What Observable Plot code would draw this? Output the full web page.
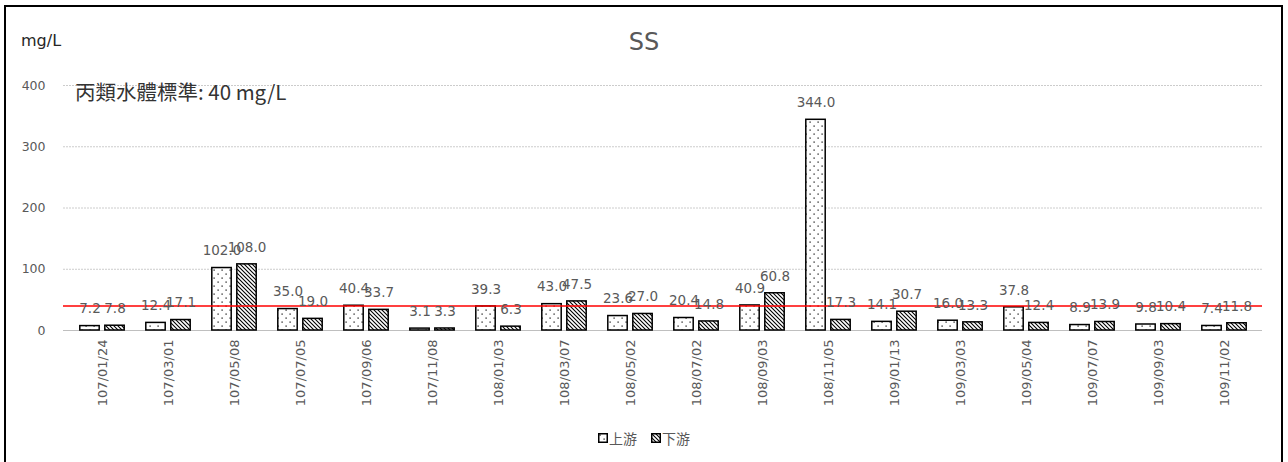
<!DOCTYPE html>
<html>
<head>
<meta charset="utf-8">
<script src="https://cdn.jsdelivr.net/npm/d3@7"></script>
<script src="https://cdn.jsdelivr.net/npm/@observablehq/plot@0.6"></script>
<style>
  html, body { margin: 0; padding: 0; background: #fff; overflow: hidden; }
  #wrap { position: relative; width: 1288px; height: 462px; overflow: hidden; }
  #chart { position: absolute; left: 0; top: 0; }
  #border { position: absolute; left: 4px; top: 5px; width: 1279px; height: 480px; border: 2px solid #000; box-sizing: border-box; }
  .lbl { position: absolute; white-space: nowrap; }
  #title { left: 0; width: 1288px; top: 28px; text-align: center; font: 24px "DejaVu Sans", sans-serif; color: #595959; }
  #unit { left: 21px; top: 31px; font: 16px "DejaVu Sans", sans-serif; color: #262626; }
  #std { left: 75px; top: 76px; font: 20.5px "Noto Sans CJK TC", sans-serif; color: #333; }
  #legend { left: 0; width: 1288px; top: 427px; text-align: center; font: 14px "Noto Sans CJK TC", sans-serif; color: #595959; }
  #legend span.item { display: inline-flex; align-items: center; margin: 0 7px; }
  #legend svg { margin-right: 1px; }
</style>
</head>
<body>
<div id="wrap">
  <div id="chart"></div>
  <div id="border"></div>
  <div id="title" class="lbl">SS</div>
  <div id="unit" class="lbl">mg/L</div>
  <div id="std" class="lbl">丙類水體標準: 40 mg/L</div>
  <div id="legend" class="lbl"></div>
</div>
<script>
// Sampling dates (ROC calendar)
const dates = ["107/01/24","107/03/01","107/05/08","107/07/05","107/09/06","107/11/08",
               "108/01/03","108/03/07","108/05/02","108/07/02","108/09/03","108/11/05",
               "109/01/13","109/03/03","109/05/04","109/07/07","109/09/03","109/11/02"];
// Suspended solids (mg/L)
const upstream   = [7.2, 12.4, 102.0, 35.0, 40.4, 3.1, 39.3, 43.0, 23.6, 20.4, 40.9, 344.0, 14.1, 16.0, 37.8, 8.9, 9.8, 7.4];
const downstream = [7.8, 17.1, 108.0, 19.0, 33.7, 3.3, 6.3, 47.5, 27.0, 14.8, 60.8, 17.3, 30.7, 13.3, 12.4, 13.9, 10.4, 11.8];
const seriesNames = ["上游", "下游"];
const yTicks = [0, 100, 200, 300, 400];
const standard = 40; // Class C water body standard

const rows = dates.map((date, i) => ({date, up: upstream[i], down: downstream[i]}));

const font = "'DejaVu Sans', sans-serif";
const labelColor = "#595959";

const chart = Plot.plot({
  width: 1288,
  height: 462,
  marginLeft: 63,
  marginRight: 26,
  marginTop: 85,
  marginBottom: 132,
  style: {fontFamily: font, fontSize: "12.5px", color: labelColor, background: "transparent", overflow: "visible"},
  x: {domain: dates, padding: 0, label: null, tickRotate: -90, tickSize: 0, tickPadding: 9},
  y: {domain: [0, 400], ticks: yTicks, label: null, tickSize: 0, tickPadding: 18},
  marks: [
    Plot.ruleY(yTicks.filter(d => d > 0), {stroke: "#cccccc", strokeDasharray: "2,1"}),
    Plot.ruleY([0], {stroke: "#bfbfbf"}),
    Plot.barY(rows, {x: "date", y: "up", fill: "url(#dots)", stroke: "#000", strokeWidth: 1.5, insetLeft: 10.8, insetRight: 35.8}),
    Plot.barY(rows, {x: "date", y: "down", fill: "url(#hatch)", stroke: "#000", strokeWidth: 1.5, insetLeft: 35.8, insetRight: 10.8}),
    Plot.ruleY([standard], {stroke: "#ff0000", strokeWidth: 1.5}),
    Plot.axisX({tickRotate: -90, tickSize: 0, tickPadding: 9, fontSize: 13, label: null}),
    Plot.text(rows, {x: "date", y: "up", text: d => d.up.toFixed(1), dx: -12.5, dy: -17, fill: labelColor, fontSize: 13.5}),
    Plot.text(rows, {x: "date", y: "down", text: d => d.down.toFixed(1), dx: 12.5, dy: -17, fill: labelColor, fontSize: 13.5})
  ]
});

// Fill patterns: dotted for upstream, diagonal hatch for downstream
const defs = d3.select(chart).insert("defs", ":first-child");
const dots = defs.append("pattern").attr("id", "dots").attr("patternUnits", "userSpaceOnUse")
  .attr("width", 8).attr("height", 8);
dots.append("rect").attr("width", 8).attr("height", 8).attr("fill", "#fff");
dots.append("rect").attr("x", 1.5).attr("y", 1.5).attr("width", 1.2).attr("height", 1.2).attr("fill", "#000");
dots.append("rect").attr("x", 5.5).attr("y", 5.5).attr("width", 1.2).attr("height", 1.2).attr("fill", "#000");
const hatch = defs.append("pattern").attr("id", "hatch").attr("patternUnits", "userSpaceOnUse")
  .attr("width", 4).attr("height", 4);
hatch.append("rect").attr("width", 4).attr("height", 4).attr("fill", "#fff");
hatch.append("path").attr("d", "M-1,-1L5,5M-1,3L1,5M3,-1L5,1").attr("stroke", "#000").attr("stroke-width", 1.1);

document.getElementById("chart").appendChild(chart);

// Legend
const legend = d3.select("#legend");
seriesNames.forEach((name, i) => {
  const item = legend.append("span").attr("class", "item");
  const sw = item.append("svg").attr("width", 10).attr("height", 10);
  sw.append("rect").attr("x", 0.75).attr("y", 0.75).attr("width", 8.5).attr("height", 8.5)
    .attr("fill", i === 0 ? "url(#dots)" : "url(#hatch)").attr("stroke", "#000").attr("stroke-width", 1.5);
  item.append("span").text(name);
});
</script>
</body>
</html>
